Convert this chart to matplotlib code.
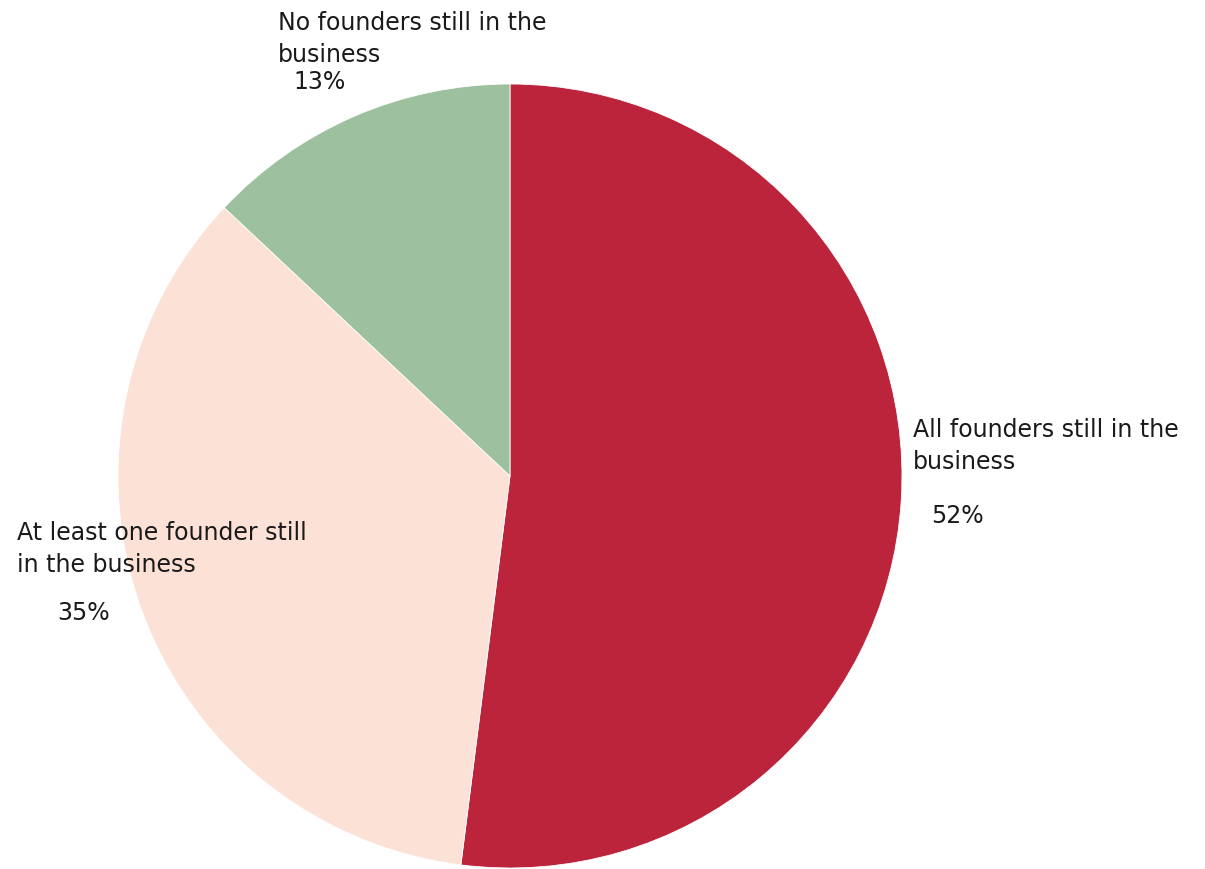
import matplotlib.pyplot as plt

# founder status shares (%)
labels = ['All founders still in the\nbusiness',
          'At least one founder still\nin the business',
          'No founders still in the\nbusiness']
shares = [52, 35, 13]
colors = ['#BC243C', '#FBE1D6', '#9DC09E']

fig = plt.figure(figsize=(12.05, 8.7), dpi=100)
ax = fig.add_axes([0, 0, 1, 1])
ax.set_xlim(0, 1205)
ax.set_ylim(0, 870)
ax.set_aspect('equal')

ax.pie(shares, colors=colors, startangle=90, counterclock=False,
       center=(510, 393), radius=392, frame=True,
       wedgeprops=dict(edgecolor='white', linewidth=0.6))
ax.axis('off')

# label text positions (pixels from bottom-left)
name_pos = [(913, 424), (17, 321), (278, 831)]
pct_pos = [(931, 354), (57, 257), (293, 788)]

for lab, val, (nx, ny), (px, py) in zip(labels, shares, name_pos, pct_pos):
    ax.text(nx, ny, lab, fontsize=17, ha='left', va='center', linespacing=1.45,
            color='#1a1a1a')
    ax.text(px, py, f'{val}%', fontsize=17, ha='left', va='center',
            color='#1a1a1a')

fig.savefig('out.png', dpi=100)
